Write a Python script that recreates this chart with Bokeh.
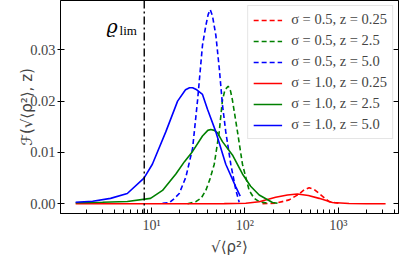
from bokeh.plotting import figure
from bokeh.models import FixedTicker, LinearAxis, Span, CustomJSTickFormatter, Range1d
from bokeh.core.properties import value
from bokeh.embed import file_html
from bokeh.resources import INLINE

# ---- data ----
x_s05_z025 = [154, 213, 297, 380, 430, 486, 550, 622, 795, 1000]
y_s05_z025 = [0.0, 0.0001, 0.00075, 0.0019, 0.0027, 0.0031, 0.0028, 0.0020, 0.0004, 0.0001]

x_s05_z25 = [24.3, 29.8, 34, 38.1, 42, 46.9, 53.0, 57.4, 61.1, 66.1, 70.0, 73.4, 83.2, 94.0, 110.9, 125, 141.9, 174]
y_s05_z25 = [0.0, 0.0004, 0.0011, 0.0026, 0.0047, 0.0077, 0.0140, 0.0202, 0.0222, 0.0229, 0.0220, 0.0202,
             0.0140, 0.0077, 0.0026, 0.0011, 0.0004, 0.0001]

x_s05_z50 = [13.1, 15.5, 17.5, 19.8, 23.3, 27.5, 31.1, 35.1, 38.1, 40.4, 42.5, 44.9, 48.8, 53.0, 57.4, 62.3,
             70.5, 79.8, 86.7]
y_s05_z50 = [0.0001, 0.0002, 0.0010, 0.0020, 0.0052, 0.0108, 0.0202, 0.0309, 0.0347, 0.0369, 0.0378, 0.0366,
             0.0328, 0.0265, 0.0193, 0.0140, 0.0077, 0.0027, 0.0003]

x_s10_z025 = [1.54, 5, 20, 60, 102, 142, 213, 285, 364, 477, 622, 863, 1300, 2000, 3200]
y_s10_z025 = [0.0, 0.0, 0.0, 0.00003, 0.0001, 0.0004, 0.00125, 0.0017, 0.0019, 0.0016, 0.00105, 0.00025,
              0.00005, 0.0, 0.0]

x_s10_z25 = [1.54, 2.99, 5.5, 9.75, 13.1, 18.2, 22.5, 27.5, 35.1, 40, 43.0, 47, 50.8, 57.4, 73.4, 94, 115,
             142, 197, 223]
y_s10_z25 = [0.0002, 0.0003, 0.00043, 0.00105, 0.0026, 0.0058, 0.0082, 0.0102, 0.0132, 0.0143, 0.01445,
             0.0143, 0.0138, 0.0121, 0.0095, 0.0058, 0.0034, 0.0017, 0.00025, 0.0001]

x_s10_z50 = [1.54, 2.34, 3.64, 5.5, 8.3, 10.2, 14.2, 19.0, 23.1, 25.5, 27.5, 30.5, 35.1, 39.7, 48.8, 62.3,
             79.8, 88.9]
y_s10_z50 = [0.0003, 0.0005, 0.00105, 0.0020, 0.0050, 0.0077, 0.0140, 0.0200, 0.0222, 0.0226, 0.0226,
             0.0222, 0.0213, 0.0184, 0.0140, 0.0077, 0.0033, 0.0015]

labels = ["σ = 0.5, z = 0.25", "σ = 0.5, z = 2.5", "σ = 0.5, z = 5.0",
          "σ = 1.0, z = 0.25", "σ = 1.0, z = 2.5", "σ = 1.0, z = 5.0"]

rho_lim = 8.35
y_ticks = [0.0, 0.01, 0.02, 0.03]
y_tick_labels = ["0.00", "0.01", "0.02", "0.03"]
x_ticks = [10, 100, 1000]
x_tick_labels = ["10¹", "10²", "10³"]
x_minor = [m * d for d in (1, 10, 100, 1000) for m in range(2, 10)]
x_title = "√⟨ρ²⟩"
y_title = "ℱ(√⟨ρ²⟩, z)"

SERIF = "Liberation Serif"
MATH = "DejaVu Sans"

p = figure(width=399, height=258, x_axis_type="log",
           x_range=Range1d(1.06, 4400), y_range=Range1d(-0.0019, 0.0396),
           output_backend="svg", toolbar_location=None,
           min_border_left=60, min_border_right=1, min_border_top=0, min_border_bottom=38)
p.grid.visible = False
p.outline_line_color = "black"
p.outline_line_width = 1

series = [
    (x_s05_z025, y_s05_z025, "red", "dashed"),
    (x_s05_z25, y_s05_z25, "green", "dashed"),
    (x_s05_z50, y_s05_z50, "blue", "dashed"),
    (x_s10_z025, y_s10_z025, "red", "solid"),
    (x_s10_z25, y_s10_z25, "green", "solid"),
    (x_s10_z50, y_s10_z50, "blue", "solid"),
]
for (xs, ys, col, dash), lab in zip(series, labels):
    p.line(xs, ys, line_color=col, line_width=1.6,
           line_dash="5 3" if dash == "dashed" else "solid", legend_label=lab)

p.add_layout(Span(location=rho_lim, dimension="height", line_color="black",
                  line_width=1.4, line_dash="8 3 2 3"))

p.text(x=[3.3], y=[0.0346], text=["ϱ"], text_font=value("DejaVu Serif"),
       text_font_style="italic", text_font_size="19px", text_color="black",
       text_baseline="alphabetic", text_align="left")
p.text(x=[4.55], y=[0.0338], text=["lim"], text_font=value(SERIF),
       text_font_size="13px", text_color="black",
       text_baseline="alphabetic", text_align="left")

# x axis
xa = p.xaxis[0]
xa.ticker = FixedTicker(ticks=x_ticks, minor_ticks=x_minor)
xa.formatter = CustomJSTickFormatter(
    args=dict(vals=x_ticks, labs=x_tick_labels),
    code="const i = vals.findIndex(v => Math.abs(v - tick) < 1e-6 * v); return i >= 0 ? labs[i] : '';")
xa.major_tick_in = 6
xa.major_tick_out = 0
xa.minor_tick_in = 4
xa.minor_tick_out = 0
xa.major_label_standoff = 4
xa.major_label_text_font = SERIF
xa.major_label_text_font_size = "14px"
xa.axis_label = x_title
xa.axis_label_text_font = MATH
xa.axis_label_text_font_style = "normal"
xa.axis_label_text_font_size = "15px"
xa.axis_label_standoff = 2

# y axis
ya = p.yaxis[0]
ya.ticker = FixedTicker(ticks=y_ticks, minor_ticks=[])
ya.major_label_overrides = {t: l for t, l in zip(y_ticks, y_tick_labels)}
ya.major_tick_in = 4
ya.major_tick_out = 3
ya.minor_tick_line_color = None
ya.major_label_standoff = 2
ya.major_label_text_font = SERIF
ya.major_label_text_font_size = "14.5px"
ya.axis_label = y_title
ya.axis_label_text_font = MATH
ya.axis_label_text_font_style = "normal"
ya.axis_label_text_font_size = "15px"
ya.axis_label_standoff = -9

ra = LinearAxis(ticker=FixedTicker(ticks=y_ticks, minor_ticks=[]),
                formatter=CustomJSTickFormatter(code="return ''"),
                major_tick_in=5, major_tick_out=0, minor_tick_line_color=None,
                major_label_standoff=0, major_label_text_font_size="0px",
                axis_line_color="black")
p.add_layout(ra, "right")

lg = p.legend[0]
lg.location = "top_right"
lg.margin = 5
lg.padding = 5
lg.spacing = 4
lg.label_height = 16
lg.glyph_height = 16
lg.glyph_width = 29
lg.label_standoff = 9
lg.label_text_font = SERIF
lg.label_text_font_size = "14.5px"
lg.border_line_color = "#cccccc"
lg.border_line_width = 1
lg.background_fill_alpha = 0.8

open("out.html", "w").write(file_html(p, INLINE))
